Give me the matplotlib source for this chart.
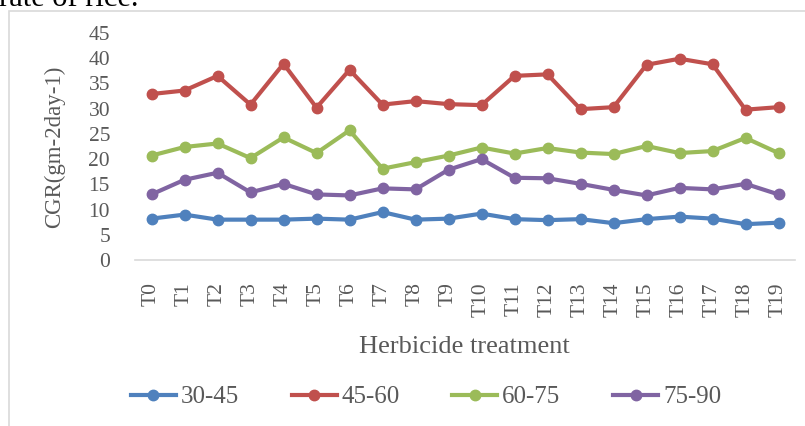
import matplotlib
matplotlib.use("Agg")
import matplotlib.pyplot as plt
from matplotlib.patches import Rectangle

plt.rcParams['font.family'] = ['Liberation Serif', 'DejaVu Serif']

# Treatments and crop growth rate for each sampling interval (days after sowing)
treatments = [f"T{i}" for i in range(20)]
series_names = ["30-45", "45-60", "60-75", "75-90"]
cgr_30_45 = [8.2, 9.0, 8.0, 8.0, 8.0, 8.2, 8.0, 9.5, 8.0, 8.2,
             9.2, 8.1, 7.9, 8.1, 7.3, 8.1, 8.6, 8.2, 7.1, 7.4]
cgr_45_60 = [32.9, 33.6, 36.5, 30.8, 38.9, 30.2, 37.7, 30.8, 31.5, 30.9,
             30.7, 36.5, 36.8, 29.9, 30.3, 38.7, 39.9, 38.8, 29.8, 30.3]
cgr_60_75 = [20.7, 22.4, 23.1, 20.2, 24.3, 21.2, 25.7, 18.1, 19.4, 20.7,
             22.3, 21.1, 22.2, 21.3, 21.0, 22.6, 21.2, 21.6, 24.2, 21.2]
cgr_75_90 = [13.0, 15.9, 17.3, 13.4, 15.1, 13.0, 12.8, 14.2, 14.0, 17.9,
             20.0, 16.3, 16.2, 15.1, 13.9, 12.8, 14.3, 14.0, 15.1, 13.0]
y_ticks = [0, 5, 10, 15, 20, 25, 30, 35, 40, 45]

colors = ["#4F81BD", "#C0504D", "#9BBB59", "#8064A2"]
text_color = "#595959"
W, H = 805, 426

fig = plt.figure(figsize=(W / 100, H / 100), dpi=100)
fig.patch.set_facecolor("white")

# chart border
fig.add_artist(Rectangle((9 / W, -0.1), 1.2, 1.1 - 11 / H,
                         transform=fig.transFigure, fill=False,
                         edgecolor="#d9d9d9", linewidth=1.2))

# caption line above the chart
fig.text(-1 / W, 1 - 6 / H, "rate of rice.", ha="left", va="baseline",
         fontsize=22, color="black")

ax = fig.add_axes([135 / W, 1 - 260 / H, 660 / W, 227 / H])
x = list(range(len(treatments)))
for name, vals, c in zip(series_names,
                         [cgr_30_45, cgr_45_60, cgr_60_75, cgr_75_90], colors):
    ax.plot(x, vals, color=c, linewidth=3.0, marker="o", markersize=7.5,
            label=name, solid_joinstyle="round")

ax.set_xlim(-0.5, len(treatments) - 0.5)
ax.set_ylim(0, 45)
ax.set_yticks(y_ticks)
ax.set_yticklabels([str(v) for v in y_ticks], fontsize=15.5, color=text_color)
ax.set_xticks(x)
ax.set_xticklabels(treatments, rotation=90, fontsize=15.5, color=text_color)
ax.tick_params(axis="y", length=0, pad=18)
ax.tick_params(axis="x", length=0, pad=16)
for side in ["top", "right", "left"]:
    ax.spines[side].set_visible(False)
ax.spines["bottom"].set_color("#d9d9d9")
ax.spines["bottom"].set_linewidth(1.2)
ax.set_facecolor("none")

fig.text(55 / W, 1 - 147 / H, "CGR(gm-2day-1)", rotation=90, ha="center",
         va="center", fontsize=16.5, color=text_color)
fig.text(464 / W, 1 - 347 / H, "Herbicide treatment", ha="center",
         va="center", fontsize=19, color=text_color)

handles, labels = ax.get_legend_handles_labels()
leg = fig.legend(handles, labels, ncol=4, loc="center",
                 bbox_to_anchor=(426 / W, 1 - 397 / H),
                 frameon=False, fontsize=18, handlelength=1.8,
                 handletextpad=0.2, columnspacing=2.1,
                 borderaxespad=0, borderpad=0)
for t in leg.get_texts():
    t.set_color(text_color)

fig.savefig("out.png", dpi=100)
